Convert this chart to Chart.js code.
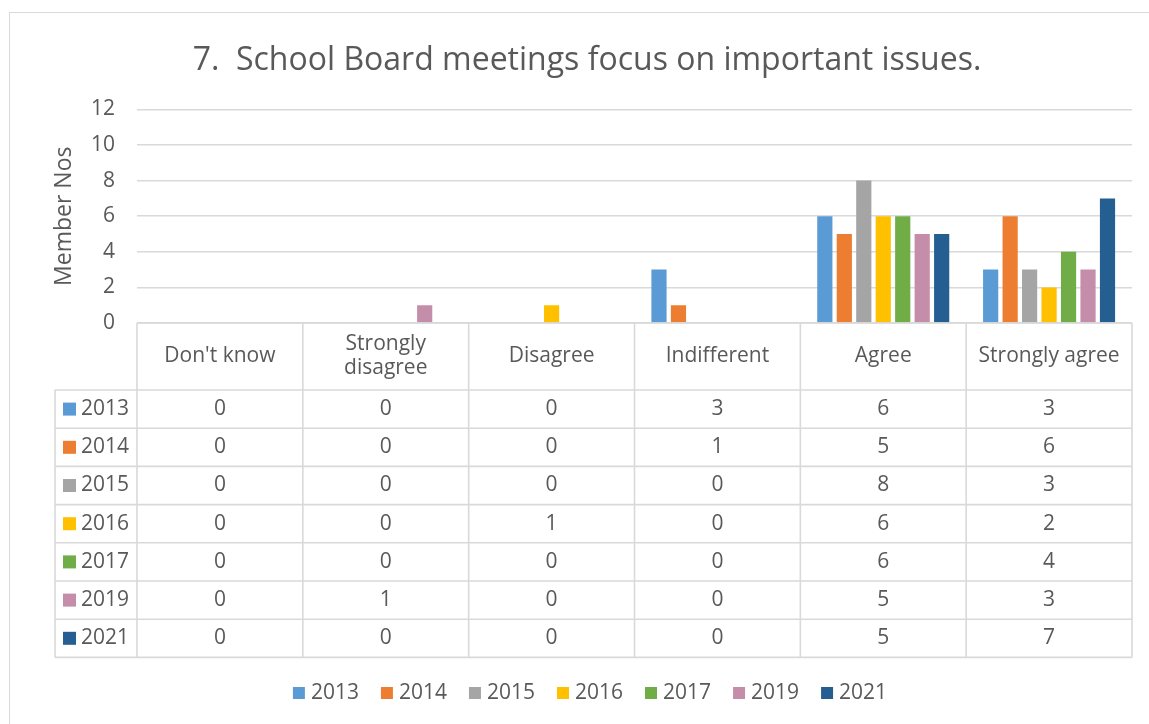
<!DOCTYPE html>
<html>
<head>
<meta charset="utf-8">
<script src="https://cdn.jsdelivr.net/npm/chart.js@4"></script>
<style>
  html, body { margin: 0; padding: 0; background: #fff; }
  #wrap { width: 1149px; height: 724px; }
</style>
</head>
<body>
<div id="wrap"><canvas id="chart" width="1149" height="724"></canvas></div>
<script>
// ---------- Data ----------
const categories = ['Don\'t know', 'Strongly disagree', 'Disagree', 'Indifferent', 'Agree', 'Strongly agree'];
const headerLines = [['Don\'t know'], ['Strongly', 'disagree'], ['Disagree'], ['Indifferent'], ['Agree'], ['Strongly agree']];
const years = ['2013', '2014', '2015', '2016', '2017', '2019', '2021'];
const v2013 = [0, 0, 0, 3, 6, 3];
const v2014 = [0, 0, 0, 1, 5, 6];
const v2015 = [0, 0, 0, 0, 8, 3];
const v2016 = [0, 0, 1, 0, 6, 2];
const v2017 = [0, 0, 0, 0, 6, 4];
const v2019 = [0, 1, 0, 0, 5, 3];
const v2021 = [0, 0, 0, 0, 5, 7];
const seriesValues = [v2013, v2014, v2015, v2016, v2017, v2019, v2021];
const colors = ['#5B9BD5', '#ED7D31', '#A5A5A5', '#FFC000', '#70AD47', '#C48EAA', '#255E91'];
const yTicks = [0, 2, 4, 6, 8, 10, 12];

const FONT = '"Open Sans", "Liberation Sans", sans-serif';
const TEXT = '#595959';
const LINE = '#D9D9D9';

// ---------- Data table + legend + frame ----------
const tablePlugin = {
  id: 'dataTable',
  beforeDraw(chart) {
    const ctx = chart.ctx;
    ctx.save();
    ctx.strokeStyle = LINE;
    ctx.lineWidth = 1;
    ctx.strokeRect(9.5, 12.5, 1160, 730);
    ctx.restore();
  },
  afterDraw(chart) {
    const ctx = chart.ctx;
    const x = chart.scales.x;
    const area = chart.chartArea;
    const n = categories.length;
    const cw = (area.right - area.left) / n;
    const top = area.bottom;
    const headerH = 67;
    const rowH = 38.2;
    const tableLeft = 55;
    const bottom = top + headerH + rowH * years.length;

    ctx.save();
    ctx.strokeStyle = LINE;
    ctx.lineWidth = 1.6;
    ctx.beginPath();
    // header top (axis line)
    ctx.moveTo(area.left, top); ctx.lineTo(area.right, top);
    // horizontal row lines
    for (let r = 0; r <= years.length; r++) {
      const y = top + headerH + r * rowH;
      ctx.moveTo(tableLeft, y); ctx.lineTo(area.right, y);
    }
    // vertical lines
    for (let i = 0; i <= n; i++) {
      const px = area.left + i * cw;
      ctx.moveTo(px, top); ctx.lineTo(px, bottom);
    }
    ctx.moveTo(tableLeft, top + headerH); ctx.lineTo(tableLeft, bottom);
    ctx.stroke();

    ctx.fillStyle = TEXT;
    ctx.font = '21px ' + FONT;
    ctx.textAlign = 'center';
    ctx.textBaseline = 'middle';
    // header labels
    headerLines.forEach((lines, i) => {
      const cx = x.getPixelForValue(i);
      const cy = top + headerH / 2;
      const lh = 24;
      lines.forEach((t, k) => {
        ctx.fillText(t, cx, cy + (k - (lines.length - 1) / 2) * lh);
      });
    });
    // rows
    years.forEach((yr, r) => {
      const cy = top + headerH + r * rowH + rowH / 2;
      ctx.fillStyle = colors[r];
      ctx.fillRect(63, cy - 6.5, 13, 13);
      ctx.fillStyle = TEXT;
      ctx.textAlign = 'left';
      ctx.fillText(yr, 81, cy);
      ctx.textAlign = 'center';
      seriesValues[r].forEach((v, i) => {
        ctx.fillText(String(v), x.getPixelForValue(i), cy);
      });
    });

    // legend
    const ly = 693;
    const gap = 22;
    const widths = years.map(t => 12 + 6 + ctx.measureText(t).width);
    const total = widths.reduce((a, b) => a + b, 0) + gap * (years.length - 1);
    let lx = 590 - total / 2;
    ctx.textAlign = 'left';
    years.forEach((t, i) => {
      ctx.fillStyle = colors[i];
      ctx.fillRect(lx, ly - 6, 12, 12);
      ctx.fillStyle = TEXT;
      ctx.fillText(t, lx + 18, ly);
      lx += widths[i] + gap;
    });
    ctx.restore();
  }
};

// ---------- Chart ----------
const ctx = document.getElementById('chart').getContext('2d');
new Chart(ctx, {
  type: 'bar',
  data: {
    labels: categories,
    datasets: years.map((yr, i) => ({
      label: yr,
      data: seriesValues[i],
      backgroundColor: colors[i],
      borderWidth: 0,
      categoryPercentage: 0.822,
      barPercentage: 0.78
    }))
  },
  options: {
    responsive: false,
    animation: false,
    layout: { padding: { left: 25, right: 0, top: 0, bottom: 401 } },
    plugins: {
      legend: { display: false },
      tooltip: { enabled: false },
      title: {
        display: true,
        text: '7.  School Board meetings focus on important issues.',
        color: TEXT,
        font: { family: FONT, size: 32, weight: 'normal', lineHeight: 1.2 },
        padding: { top: 42, bottom: 29 }
      }
    },
    scales: {
      x: { display: false },
      y: {
        min: 0,
        max: 12,
        afterFit: s => { s.width = 112; },
        afterBuildTicks: s => { s.ticks = yTicks.map(v => ({ value: v })); },
        ticks: { color: TEXT, font: { family: FONT, size: 21 }, padding: 22 },
        grid: { color: LINE, lineWidth: 1.6, drawTicks: false },
        border: { display: false },
        title: {
          display: true,
          text: 'Member Nos',
          color: TEXT,
          font: { family: FONT, size: 23 },
          padding: { top: 26, bottom: 0 }
        }
      },
      y2: {
        position: 'right',
        display: true,
        afterFit: s => { s.width = 17; },
        grid: { display: false },
        ticks: { display: false },
        border: { display: false }
      }
    }
  },
  plugins: [tablePlugin]
});
</script>
</body>
</html>
